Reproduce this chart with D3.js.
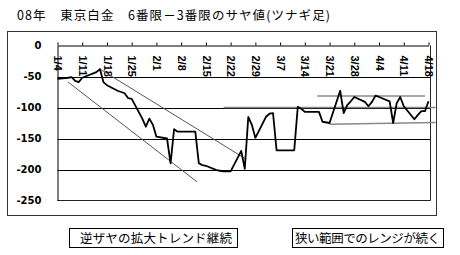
<!DOCTYPE html>
<html><head><meta charset="utf-8">
<script src="https://cdn.jsdelivr.net/npm/d3@7"></script>
<style>
html,body{margin:0;padding:0;background:#fff;}
svg{display:block;}
</style></head>
<body>
<script>
const title = "08年　東京白金　6番限－3番限のサヤ値(ツナギ足)";
const dates = ["1/4","1/7","1/8","1/9","1/10","1/11","1/15","1/16","1/17","1/18","1/21","1/22","1/23","1/24","1/25","1/28","1/29","1/30","1/31","2/1","2/4","2/5","2/6","2/7","2/8","2/12","2/13","2/14","2/15","2/18","2/19","2/20","2/21","2/22","2/25","2/26","2/27","2/28","2/29","3/3","3/4","3/5","3/6","3/7","3/10","3/11","3/12","3/13","3/14","3/17","3/18","3/19","3/21","3/24","3/25","3/26","3/27","3/28","3/31","4/1","4/2","4/3","4/4","4/7","4/8","4/9","4/10","4/11","4/14","4/15","4/16","4/17","4/18"];
const values = [-54,-52,-51,-57,-59,-52,-43,-38,-59,-64,-73,-75,-77,-85,-86,-118,-131,-118,-128,-147,-150,-190,-135,-139,-139,-139,-190,-193,-194,-201,-202,-203,-203,-203,-170,-199,-115,-128,-149,-115,-110,-109,-169,-169,-169,-169,-99,-102,-107,-107,-107,-123,-125,-73,-109,-96,-90,-83,-91,-98,-91,-81,-83,-90,-125,-93,-83,-98,-119,-112,-106,-106,-90];
const xTickLabels = ["1/4","1/11","1/18","1/25","2/1","2/8","2/15","2/22","2/29","3/7","3/14","3/21","3/28","4/4","4/11","4/18"];
const yTicks = [0,-50,-100,-150,-200,-250];
// hand-drawn trend lines: [date, value] pairs
const trendDown1 = [["1/16",-38],["2/26",-182]];
const trendDown2 = [["1/7",-59],["2/12 12:00",-220]];
const rangeTop = [["3/17 12:00",-81.5],["4/17",-81.5]];
const rangeMid = [["2/20",-100],["4/20",-100]];
const rangeLow = [["3/21",-127],["4/20",-124]];
const notes = ["逆ザヤの拡大トレンド継続","狭い範囲でのレンジが続く"];

const parse = s => {
  const [md, hm] = s.split(" ");
  const [m, d] = md.split("/").map(Number);
  let h = 0;
  if (hm) h = +hm.split(":")[0];
  return new Date(2008, m - 1, d, h);
};

const W = 460, H = 255;
const svg = d3.select("body").append("svg").attr("width", W).attr("height", H);
svg.append("rect").attr("width", W).attr("height", H).attr("fill", "#fff");

const jp = "'Noto Sans CJK JP','Noto Sans CJK SC',sans-serif";

svg.append("text").attr("x", 17).attr("y", 19.5)
  .attr("font-family", jp).attr("font-size", 12.5).attr("fill", "#000")
  .attr("textLength", 313).attr("lengthAdjust", "spacing")
  .text(title);

// outer frame
svg.append("rect").attr("x", 7.5).attr("y", 31.5).attr("width", 429).attr("height", 184)
  .attr("fill", "none").attr("stroke", "#333").attr("stroke-width", 1);

const x = d3.scaleTime().domain([parse("1/4"), parse("4/18")]).range([57.5, 428.5]);
const y = d3.scaleLinear().domain([-250, 0]).range([200.5, 45.5]);

const plotL = 57.5, plotR = 430.5, plotT = 45.5, plotB = 200.5;

// gridlines
svg.append("g").selectAll("line").data(yTicks.filter(v => v < 0 && v > -250)).join("line")
  .attr("x1", plotL).attr("x2", plotR)
  .attr("y1", d => Math.round(y(d)) + 0.5).attr("y2", d => Math.round(y(d)) + 0.5)
  .attr("stroke", "#000").attr("stroke-width", 1);
// plot border right/bottom
svg.append("path").attr("d", `M${plotL},${plotB}H${plotR}V${plotT}`)
  .attr("fill", "none").attr("stroke", "#222").attr("stroke-width", 1);

// y axis
const yAxis = svg.append("g").attr("transform", `translate(${plotL},0)`)
  .call(d3.axisLeft(y).tickValues(yTicks).tickSizeInner(0).tickSizeOuter(0).tickPadding(16)
    .tickFormat(d => d === 0 ? "0" : "-" + Math.abs(d)));
yAxis.select(".domain").attr("stroke", "#000");
yAxis.selectAll("text").attr("font-family", "'DejaVu Sans',sans-serif").attr("font-weight", "bold")
  .attr("font-size", 10).attr("fill", "#000");

// x axis (top)
const xAxis = svg.append("g").attr("transform", `translate(0,${plotT})`)
  .call(d3.axisTop(x).tickValues(xTickLabels.map(parse)).tickSizeInner(3).tickSizeOuter(0)
    .tickFormat((d, i) => xTickLabels[i]));
xAxis.select(".domain").attr("stroke", "#000");
xAxis.selectAll(".tick line").attr("stroke", "#000");
xAxis.selectAll("text")
  .attr("transform", "rotate(90)")
  .attr("x", 10).attr("y", 0).attr("dy", "0.35em")
  .attr("text-anchor", "start")
  .attr("font-family", "'Liberation Sans',Arial,sans-serif").attr("font-weight", "bold")
  .attr("font-size", 11).attr("fill", "#000");

// trend lines
const tl = d3.line().x(d => x(parse(d[0]))).y(d => y(d[1]));
[[trendDown1, "#555", 1], [trendDown2, "#555", 1], [rangeTop, "#888", 1.5], [rangeMid, "#888", 1.5], [rangeLow, "#888", 1.5]]
  .forEach(([pts, c, w]) => svg.append("path").attr("d", tl(pts)).attr("fill", "none")
    .attr("stroke", c).attr("stroke-width", w));

// data line
const data = dates.map((d, i) => ({ date: parse(d), v: values[i] }));
svg.append("path").datum(data)
  .attr("d", d3.line().x(d => x(d.date)).y(d => y(d.v)))
  .attr("fill", "none").attr("stroke", "#000").attr("stroke-width", 1.8)
  .attr("stroke-linejoin", "round");

// annotation boxes
const boxes = [{ x: 69.5, w: 168, tx: 80, tl: 152 }, { x: 292.5, w: 151, tx: 295, tl: 145 }];
boxes.forEach((b, i) => {
  svg.append("rect").attr("x", b.x).attr("y", 228.5).attr("width", b.w).attr("height", 19)
    .attr("fill", "#fff").attr("stroke", "#000").attr("stroke-width", 1);
  svg.append("text").attr("x", b.tx).attr("y", 242.5)
    .attr("font-family", jp).attr("font-size", 12.5)
    .attr("textLength", b.tl).attr("lengthAdjust", "spacing")
    .attr("fill", "#000").text(notes[i]);
});
</script>
</body></html>
